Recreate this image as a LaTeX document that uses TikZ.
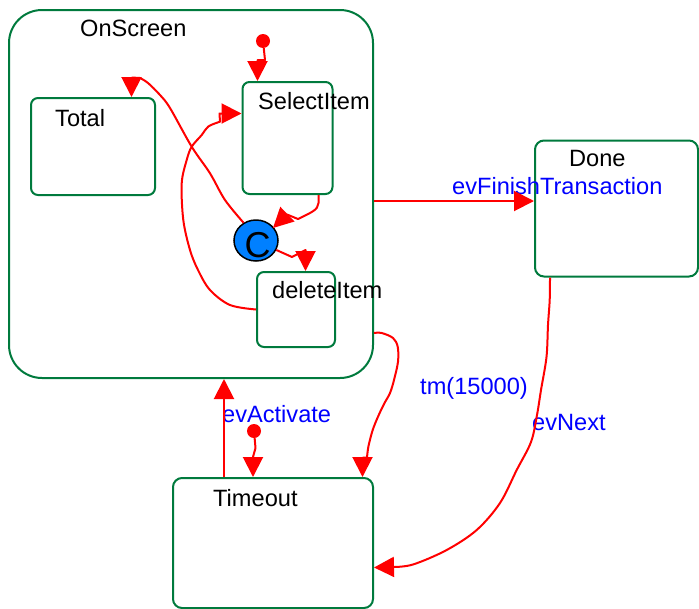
\documentclass[tikz,border=0pt]{standalone}
\usepackage{fontspec}
\setmainfont{Liberation Sans}
\usetikzlibrary{arrows.meta,calc,shapes.geometric}
\definecolor{stgreen}{RGB}{0,122,61}
\definecolor{condblue}{RGB}{0,128,255}
\begin{document}
\begin{tikzpicture}[x=1pt,y=-1pt,
  state/.style={draw=stgreen, line width=2pt, rectangle, rounded corners=7pt,
                inner sep=0pt, anchor=north west},
  trans/.style={draw=red, line width=2pt, line join=round,
                -{Triangle[length=20pt,width=20pt]}},
  lbl/.style={font=\fontsize{23.6}{27}\selectfont, anchor=base west, inner sep=0pt},
  evlbl/.style={lbl, text=blue},
  initdot/.style={circle, fill=red, inner sep=0pt, minimum size=14pt}]

\path[use as bounding box] (0,0) rectangle (699,608);

% states
\node[state, rounded corners=33pt, minimum width=364pt, minimum height=368pt] (onscreen) at (8,9) {};
\node[state, minimum width=124pt, minimum height=97pt] (total) at (30,97) {};
\node[state, minimum width=90pt, minimum height=112pt] (select) at (241.5,81) {};
\node[state, minimum width=78pt, minimum height=75pt] (delete) at (256,271) {};
\node[state, rounded corners=9pt, minimum width=163pt, minimum height=136pt] (done) at (534,139.5) {};
\node[state, rounded corners=9pt, minimum width=200pt, minimum height=130pt] (timeout) at (172,477) {};

% condition connector
\node[ellipse, draw=black, line width=1.5pt, fill=condblue, inner sep=0pt,
      minimum width=44pt, minimum height=41pt] (cond) at (256,240.5) {};
\node[font=\fontsize{36}{36}\selectfont, anchor=base, inner sep=0pt] (condlbl) at (257.5,257) {C};

% initial pseudostates
\node[initdot] (init1) at (263,41) {};
\node[initdot] (init2) at (254,431) {};

% state names
\node[lbl] (onscreenlbl) at (80,36) {OnScreen};
\node[lbl] (totallbl) at (55,126.5) {Total};
\node[lbl] (selectlbl) at (258,109) {SelectItem};
\node[lbl] (deletelbl) at (272,298) {deleteItem};
\node[lbl] (donelbl) at (569,166.5) {Done};
\node[lbl] (timeoutlbl) at (213,506.5) {Timeout};

% transition labels
\node[evlbl] (finishlbl) at (452,194.5) {evFinishTransaction};
\node[evlbl] (activatelbl) at (222,422) {evActivate};
\node[evlbl] (tmlbl) at (420,394) {tm(15000)};
\node[evlbl] (nextlbl) at (532,430.5) {evNext};

% transitions
\draw[trans] (init1) -- (265,60) -- (257.5,60) -- (257.5,0 |- select.north);

\draw[trans] (318.5,0 |- select.south) -- (318.5,203)
  .. controls (318.5,210) and (310,213) .. (298,219)
  -- (287,214.5) -- (273,228);

\draw[trans] (cond.-25) -- (292,257) -- (305.5,250) -- (305.5,0 |- delete.north);

\draw[trans] plot[smooth, tension=0.55] coordinates {
    (delete.west) (230,305) (210,290) (198,270) (190,250) (183.3,220)
    (181.7,183.3) (186.7,160) (191.7,146.7) (201.7,135) (208.3,126.5) (220,121.7)}
  -- (219.5,113.5) -- (select.west |- 0,113.5);

\draw[trans] plot[smooth, tension=0.55] coordinates {
    (cond.125) (225,200) (210,173.3) (191.7,146.7) (170,108) (160,95)
    (148,83) (140,78)}
  -- (131.5,77.5) -- (131.5,0 |- total.north);

\draw[trans] (onscreen.east |- 0,201) -- (done.west |- 0,201);

\draw[trans] (224,0 |- timeout.north) -- (224,0 |- onscreen.south);

\draw[trans] (init2) -- (255.5,448) -- (253,457) -- (253,0 |- timeout.north);

\draw[trans] plot[smooth, tension=0.55] coordinates {
    (onscreen.east |- 0,333) (381.7,333) (393,338) (397.7,346.7) (398,361.7)
    (394,380) (390,393) (384,404) (378,416.7) (372.7,430) (368.5,446) (367,457.5)}
  -- (362.5,457.5) -- (362.5,0 |- timeout.north);

\draw[trans] plot[smooth, tension=0.55] coordinates {
    (550,0 |- done.south) (549.7,300) (548,325) (546.5,357) (541,390)
    (537,415) (531,442) (516.7,470) (500,503) (476.7,530) (446.7,550)
    (413,564.5) (393,567)}
  -- (timeout.east |- 0,567.5);

\end{tikzpicture}
\end{document}
